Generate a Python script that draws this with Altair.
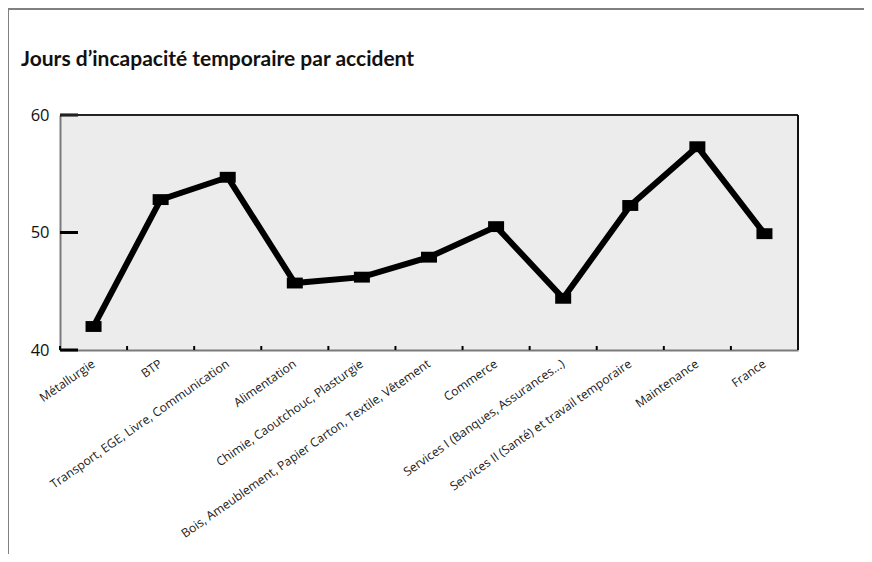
import altair as alt
import pandas as pd

categories = [
    "Métallurgie",
    "BTP",
    "Transport, EGE, Livre, Communication",
    "Alimentation",
    "Chimie, Caoutchouc, Plasturgie",
    "Bois, Ameublement, Papier Carton, Textile, Vêtement",
    "Commerce",
    "Services I (Banques, Assurances...)",
    "Services II (Santé) et travail temporaire",
    "Maintenance",
    "France",
]
values = [42.0, 52.8, 54.7, 45.7, 46.2, 47.9, 50.5, 44.4, 52.3, 57.3, 49.9]
y_ticks = [40, 50, 60]
title_text = ["Jours d’incapacité temporaire par accident"]

df = pd.DataFrame({"cat": categories, "val": values})
ticks_df = pd.DataFrame({"t": y_ticks})
title_df = pd.DataFrame({"label": title_text})

W, H = 738, 235
FONT = "Open Sans"

xscale = alt.Scale(type="band", paddingInner=0, paddingOuter=0)
yscale = alt.Scale(domain=[40, 60], nice=False, zero=False)

xaxis = alt.Axis(
    title=None, labelAngle=-35, labelAlign="right", labelBaseline="middle",
    labelFontSize=12.2, labelFont=FONT, labelColor="#1a1a1a", labelPadding=12,
    labelOffset=0, ticks=False, domainColor="#7a7a7a", domainWidth=2, labelLimit=400,
)
yaxis = alt.Axis(
    title=None, values=y_ticks, ticks=False, labelFontSize=16.5, labelFont=FONT,
    labelColor="#111", labelPadding=11, domainColor="#7a7a7a", domainWidth=2, grid=False,
)

base = alt.Chart(df)

line = base.mark_line(color="black", strokeWidth=6).encode(
    x=alt.X("cat:N", sort=categories, scale=xscale, axis=xaxis),
    y=alt.Y("val:Q", scale=yscale, axis=yaxis),
)

pts = base.mark_point(
    shape="M-1,-0.68L1,-0.68L1,0.68L-1,0.68Z", filled=True, color="black", opacity=1, size=256
).encode(
    x=alt.X("cat:N", sort=categories),
    y=alt.Y("val:Q"),
)

xticks = base.mark_rule(color="black", strokeWidth=2).encode(
    x=alt.X("cat:N", sort=categories, bandPosition=0),
    y=alt.value(H - 4), y2=alt.value(H),
)

yticks = alt.Chart(ticks_df).mark_rule(color="black", strokeWidth=3).encode(
    y=alt.Y("t:Q"), x=alt.value(0), x2=alt.value(18)
)

top_border = base.mark_rule(color="#222", strokeWidth=1).encode(
    x=alt.value(0), x2=alt.value(W), y=alt.value(0)
)
right_border = base.mark_rule(color="#111", strokeWidth=2).encode(
    x=alt.value(W), y=alt.value(0), y2=alt.value(H)
)
frame_top = base.mark_rule(color="#808080", strokeWidth=2).encode(
    x=alt.value(-52), x2=alt.value(820), y=alt.value(-106)
)
frame_left = base.mark_rule(color="#808080", strokeWidth=2).encode(
    x=alt.value(-52), y=alt.value(-106), y2=alt.value(460)
)

title = alt.Chart(title_df).mark_text(
    align="left", baseline="alphabetic", font="Lato", fontSize=21,
    fontWeight="bold", color="#111",
).encode(text="label:N", x=alt.value(-39), y=alt.value(-49))

chart = alt.layer(
    line, xticks, yticks, top_border, right_border, pts, frame_top, frame_left, title
).properties(
    width=W, height=H,
    autosize=alt.AutoSizeParams(type="none"),
    padding={"left": 52, "top": 107, "right": 66, "bottom": 204},
    background="white",
).configure_view(stroke=None, fill="#ebeceb")

chart.save("out.html", embed_options={"renderer": "svg", "actions": False})
